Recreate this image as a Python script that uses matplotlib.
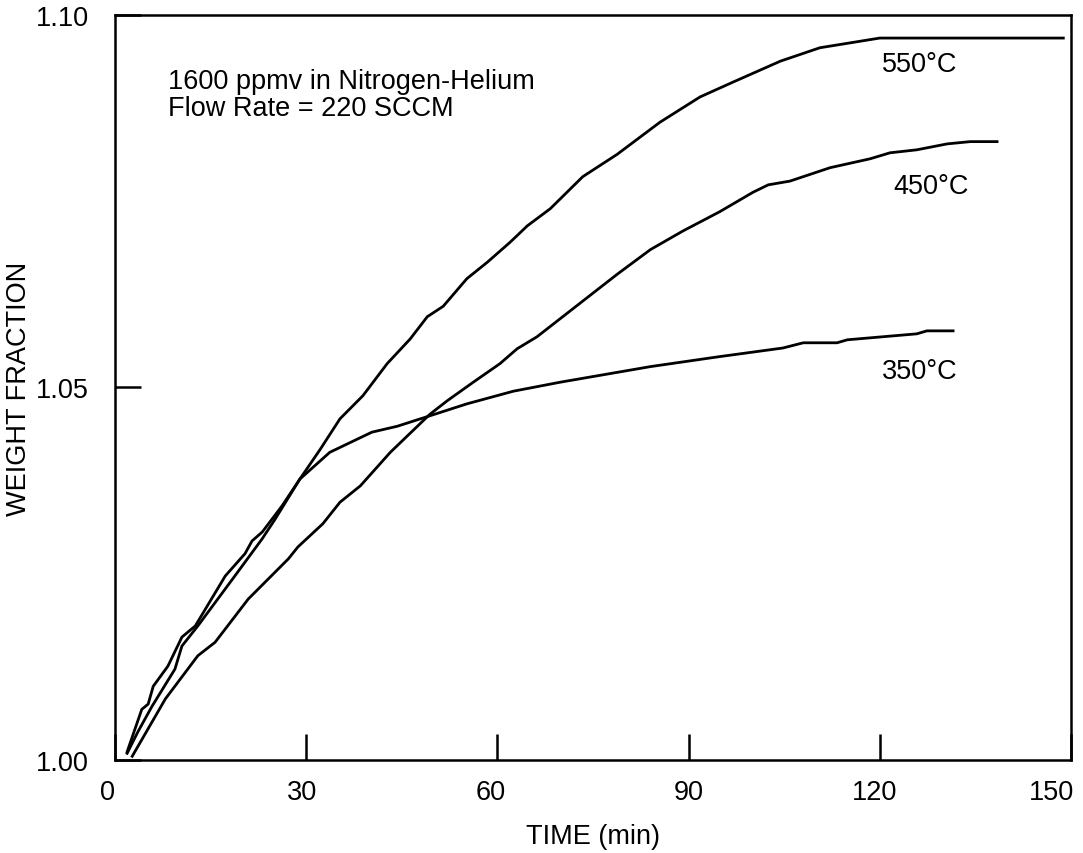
import matplotlib
matplotlib.use("Agg")
import matplotlib.pyplot as plt
from matplotlib.transforms import ScaledTranslation

plt.rcParams['font.family'] = ['Liberation Sans', 'DejaVu Sans']

# 550 C run
t_550 = [1.9, 4.2, 5.2, 6.0, 8.3, 10.5, 12.6, 17.3, 20.4, 21.5, 23.1, 26.2,
         29.0, 32.2, 35.3, 38.9, 42.7, 46.3, 49.0, 51.5, 54.5, 55.2, 58.4,
         62.0, 64.7, 68.3, 73.4, 78.8, 85.5, 91.8, 97.0, 104.4, 110.6, 120.0,
         148.8]
w_550 = [1.0011, 1.0068, 1.0075, 1.0099, 1.0126, 1.0165, 1.0180, 1.0247,
         1.0277, 1.0294, 1.0306, 1.0341, 1.0377, 1.0417, 1.0458, 1.0489,
         1.0532, 1.0565, 1.0595, 1.0609, 1.0639, 1.0646, 1.0668, 1.0695,
         1.0717, 1.0740, 1.0783, 1.0813, 1.0856, 1.0890, 1.0910, 1.0938,
         1.0956, 1.0969, 1.0969]

# 450 C run
t_450 = [2.7, 7.9, 13.0, 15.7, 20.9, 27.2, 28.7, 32.6, 35.3, 38.5, 43.2,
         49.4, 52.1, 56.2, 60.4, 63.1, 66.2, 69.8, 73.4, 78.8, 84.0, 89.1,
         94.9, 100.1, 102.5, 105.9, 112.2, 118.5, 121.6, 125.8, 130.6, 134.2,
         138.4]
w_450 = [1.0005, 1.0082, 1.0140, 1.0158, 1.0216, 1.0270, 1.0286, 1.0317,
         1.0346, 1.0368, 1.0413, 1.0464, 1.0482, 1.0507, 1.0532, 1.0552,
         1.0568, 1.0592, 1.0616, 1.0652, 1.0685, 1.0710, 1.0736, 1.0762,
         1.0772, 1.0777, 1.0795, 1.0807, 1.0815, 1.0819, 1.0827, 1.0830,
         1.0830]

# 350 C run
t_350 = [1.9, 3.6, 5.8, 9.4, 10.5, 13.0, 18.8, 23.1, 25.1, 29.0, 33.7, 40.3,
         44.3, 49.4, 55.2, 62.5, 69.8, 84.0, 94.5, 104.8, 108.0, 113.3, 114.9,
         125.8, 127.4, 131.5]
w_350 = [1.0009, 1.0038, 1.0072, 1.0122, 1.0153, 1.0180, 1.0247, 1.0297,
         1.0323, 1.0377, 1.0413, 1.0440, 1.0448, 1.0462, 1.0478, 1.0495,
         1.0507, 1.0528, 1.0541, 1.0553, 1.0560, 1.0560, 1.0564, 1.0572,
         1.0576, 1.0576]

x_ticks = [0, 30, 60, 90, 120, 150]
y_ticks = [1.00, 1.05, 1.10]
y_tick_labels = ["1.00", "1.05", "1.10"]

fs = 19.5

fig = plt.figure(figsize=(10.83, 8.54), dpi=100)
ax = fig.add_axes([0.1062, 0.1089, 0.8827, 0.8724])

for t, w in [(t_550, w_550), (t_450, w_450), (t_350, w_350)]:
    ax.plot(t, w, color='black', linewidth=2.0)

ax.set_xlim(0, 150)
ax.set_ylim(1.0, 1.1)
ax.set_xticks(x_ticks)
ax.set_yticks(y_ticks)
ax.set_yticklabels(y_tick_labels)
ax.tick_params(direction='in', length=19, width=1.8, labelsize=fs)
ax.tick_params(axis='x', pad=14)
ax.tick_params(axis='y', pad=19)
for sp in ax.spines.values():
    sp.set_linewidth(1.8)

# the hand-set x tick labels sit a little left of their ticks
label_nudge_px = [-8, -4, -7, 0, -5, -19]
for lbl, dx in zip(ax.get_xticklabels(), label_nudge_px):
    lbl.set_transform(lbl.get_transform()
                      + ScaledTranslation(dx / 100, 0, fig.dpi_scale_trans))

ax.set_xlabel("TIME (min)", fontsize=fs)
ax.xaxis.set_label_coords(0.5, -0.085)
ax.xaxis.label.set_va('top')
ax.set_ylabel("WEIGHT FRACTION", fontsize=fs)
ax.yaxis.set_label_coords(-0.087, 0.5)

ax.text(8.3, 1.0911, "1600 ppmv in Nitrogen-Helium", fontsize=fs, va='center')
ax.text(8.3, 1.0875, "Flow Rate = 220 SCCM", fontsize=fs, va='center')
ax.text(120.4, 1.0934, "550°C", fontsize=fs, va='center')
ax.text(122.1, 1.0770, "450°C", fontsize=fs, va='center')
ax.text(120.4, 1.0522, "350°C", fontsize=fs, va='center')

plt.savefig("out.png", dpi=100)
plt.close()
